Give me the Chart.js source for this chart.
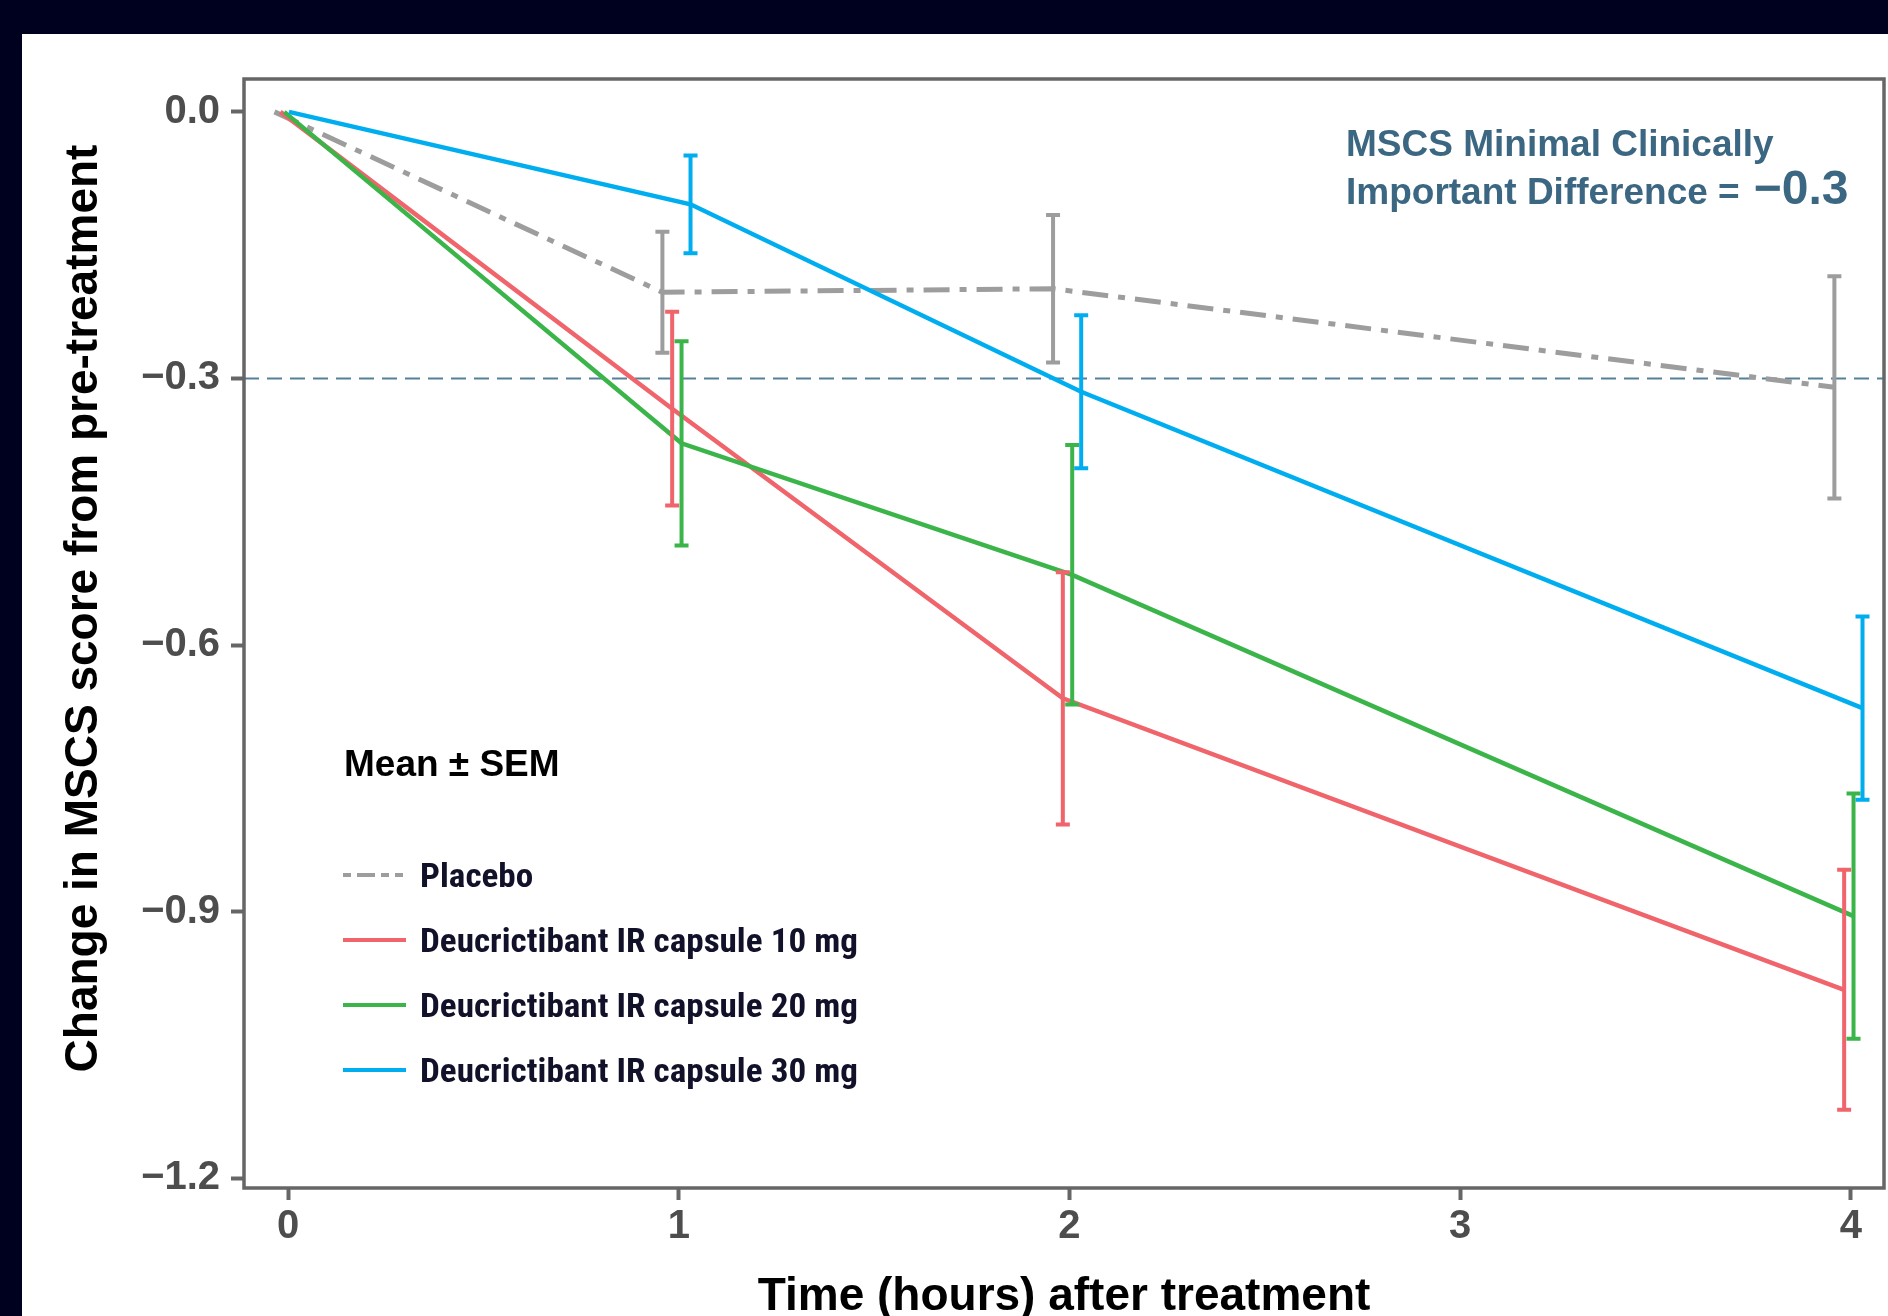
<!DOCTYPE html>
<html>
<head>
<meta charset="utf-8">
<script src="https://cdn.jsdelivr.net/npm/chart.js@4.4.1/dist/chart.umd.min.js"></script>
<style>
  html, body { margin: 0; padding: 0; background: #00001f; overflow: hidden; width: 1888px; height: 1316px; }
  #panel { position: absolute; left: 22px; top: 34px; width: 1866px; height: 1302px; background: #fff; }
</style>
</head>
<body>
<div id="panel"><canvas id="chart" width="1866" height="1302"></canvas></div>
<script>
// data
const timeHours = [0, 1, 2, 4];
const xTicks = [0, 1, 2, 3, 4];
const yTicks = [0, -0.3, -0.6, -0.9, -1.2];
const seriesNames = [
  'Placebo',
  'Deucrictibant IR capsule 10 mg',
  'Deucrictibant IR capsule 20 mg',
  'Deucrictibant IR capsule 30 mg'
];
const placeboMean = [0, -0.203, -0.199, -0.310];
const placeboSem  = [0, 0.068, 0.083, 0.125];
const mg10Mean = [0, -0.334, -0.660, -0.988];
const mg10Sem  = [0, 0.109, 0.142, 0.135];
const mg20Mean = [0, -0.373, -0.521, -0.905];
const mg20Sem  = [0, 0.115, 0.146, 0.138];
const mg30Mean = [0, -0.104, -0.315, -0.671];
const mg30Sem  = [0, 0.055, 0.086, 0.103];
const mcid = -0.3;

const colors = ['#9d9d9d', '#f0646b', '#3bb54a', '#00aeef'];
// dodge so the groups don't sit on top of each other (narrower at baseline)
const dodge = [-0.042, -0.017, 0.007, 0.03];
const dodgeStart = [-0.035, -0.02, -0.01, 0.002];
const means = [placeboMean, mg10Mean, mg20Mean, mg30Mean];
const sems = [placeboSem, mg10Sem, mg20Sem, mg30Sem];

const AXIS_FONT = '"Liberation Sans", Arial, sans-serif';

function makeDataset(k) {
  return {
    label: seriesNames[k],
    data: timeHours.map((t, i) => ({ x: t + (i === 0 ? dodgeStart[k] : dodge[k]), y: means[k][i] })),
    sem: sems[k],
    borderColor: colors[k],
    borderWidth: k === 0 ? 5 : 4.5,
    borderDash: k === 0 ? [26, 10, 7, 10] : [],
    pointRadius: 0,
    tension: 0,
    fill: false,
    order: 3 - k
  };
}

// error bars, reference line, frame, legend and note
const extras = {
  id: 'extras',
  beforeDatasetsDraw(chart) {
    const { ctx, chartArea: a, scales: { y } } = chart;
    const yy = y.getPixelForValue(mcid);
    ctx.save();
    ctx.strokeStyle = '#55809a';
    ctx.lineWidth = 2;
    ctx.setLineDash([15, 8]);
    ctx.beginPath();
    ctx.moveTo(a.left, yy);
    ctx.lineTo(a.right, yy);
    ctx.stroke();
    ctx.restore();
  },
  afterDatasetsDraw(chart) {
    const { ctx, scales: { x, y } } = chart;
    chart.data.datasets.forEach(ds => {
      ctx.save();
      ctx.strokeStyle = ds.borderColor;
      ctx.lineWidth = 4;
      ds.data.forEach((p, i) => {
        const s = ds.sem[i];
        if (!s) return;
        const px = x.getPixelForValue(p.x);
        const top = y.getPixelForValue(p.y + s);
        const bot = y.getPixelForValue(p.y - s);
        ctx.beginPath();
        ctx.moveTo(px, top); ctx.lineTo(px, bot);
        ctx.moveTo(px - 7, top); ctx.lineTo(px + 7, top);
        ctx.moveTo(px - 7, bot); ctx.lineTo(px + 7, bot);
        ctx.stroke();
      });
      ctx.restore();
    });
  },
  afterDraw(chart) {
    const { ctx, chartArea: a } = chart;
    ctx.save();

    // panel border
    ctx.strokeStyle = '#666';
    ctx.lineWidth = 3.5;
    ctx.strokeRect(a.left, a.top, a.right - a.left, a.bottom - a.top);

    // y title
    ctx.save();
    ctx.translate(62, (a.top + a.bottom) / 2 - 25);
    ctx.rotate(-Math.PI / 2);
    ctx.font = 'bold 46px ' + AXIS_FONT;
    ctx.fillStyle = '#000';
    ctx.textAlign = 'center';
    ctx.textBaseline = 'middle';
    ctx.fillText('Change in MSCS score from pre-treatment', 0, 0);
    ctx.restore();

    // MCID note
    ctx.fillStyle = '#3b6782';
    ctx.textAlign = 'left';
    ctx.textBaseline = 'alphabetic';
    ctx.font = 'bold 37px ' + AXIS_FONT;
    const nx = a.right - 538;
    ctx.fillText('MSCS Minimal Clinically', nx, a.top + 77);
    ctx.fillText('Important Difference =', nx, a.top + 125);
    const w = ctx.measureText('Important Difference =').width;
    ctx.font = 'bold 48px ' + AXIS_FONT;
    ctx.fillText('\u22120.3', nx + w + 14, a.top + 125);

    // legend
    ctx.fillStyle = '#000';
    ctx.font = 'bold 37px ' + AXIS_FONT;
    ctx.fillText('Mean \u00b1 SEM', a.left + 100, a.top + 697);

    ctx.font = 'bold 33px "Roboto Condensed", Roboto, ' + AXIS_FONT;
    const widest = Math.max(...seriesNames.map(s => ctx.measureText(s).width));
    const sx = 438 / widest;
    chart.data.datasets.forEach((ds, k) => {
      const base = a.top + 808 + k * 65;
      ctx.save();
      ctx.strokeStyle = ds.borderColor;
      ctx.lineWidth = 4;
      ctx.setLineDash(k === 0 ? [8, 6, 18, 6, 8, 6] : []);
      ctx.beginPath();
      ctx.moveTo(a.left + 99, base - 12);
      ctx.lineTo(a.left + 162, base - 12);
      ctx.stroke();
      ctx.restore();

      ctx.save();
      ctx.translate(a.left + 176, base);
      ctx.scale(sx, 1);
      ctx.fillStyle = '#11112a';
      ctx.fillText(ds.label, 0, 0);
      ctx.restore();
    });

    ctx.restore();
  }
};

const ctx = document.getElementById('chart').getContext('2d');
new Chart(ctx, {
  type: 'line',
  data: { datasets: [0, 1, 2, 3].map(makeDataset) },
  options: {
    responsive: false,
    animation: false,
    layout: { padding: { top: 45, right: 4, left: 0, bottom: 0 } },
    plugins: { legend: { display: false }, tooltip: { enabled: false } },
    scales: {
      x: {
        type: 'linear',
        min: -0.113,
        max: 4.085,
        afterBuildTicks: s => { s.ticks = xTicks.map(v => ({ value: v })); },
        afterFit: s => { s.height = 148; },
        border: { display: false },
        grid: { drawOnChartArea: false, drawTicks: true, tickLength: 12, tickWidth: 4, tickColor: '#666' },
        ticks: {
          padding: 3,
          color: '#4d4d4d',
          font: { family: AXIS_FONT, size: 40, weight: 'bold' },
          callback: v => String(v)
        },
        title: {
          display: true,
          text: 'Time (hours) after treatment',
          color: '#000',
          font: { family: AXIS_FONT, size: 46, weight: 'bold' },
          padding: { top: 0, bottom: 11 }
        }
      },
      y: {
        type: 'linear',
        min: -1.211,
        max: 0.037,
        afterBuildTicks: s => { s.ticks = yTicks.map(v => ({ value: v })); },
        afterFit: s => { s.width = 222; },
        border: { display: false },
        grid: { drawOnChartArea: false, drawTicks: true, tickLength: 13, tickWidth: 4, tickColor: '#666' },
        ticks: {
          padding: 11,
          color: '#4d4d4d',
          font: { family: AXIS_FONT, size: 40, weight: 'bold' },
          callback: v => v === 0 ? '0.0' : '\u2212' + Math.abs(v).toFixed(1)
        }
      }
    }
  },
  plugins: [extras]
});
</script>
</body>
</html>
